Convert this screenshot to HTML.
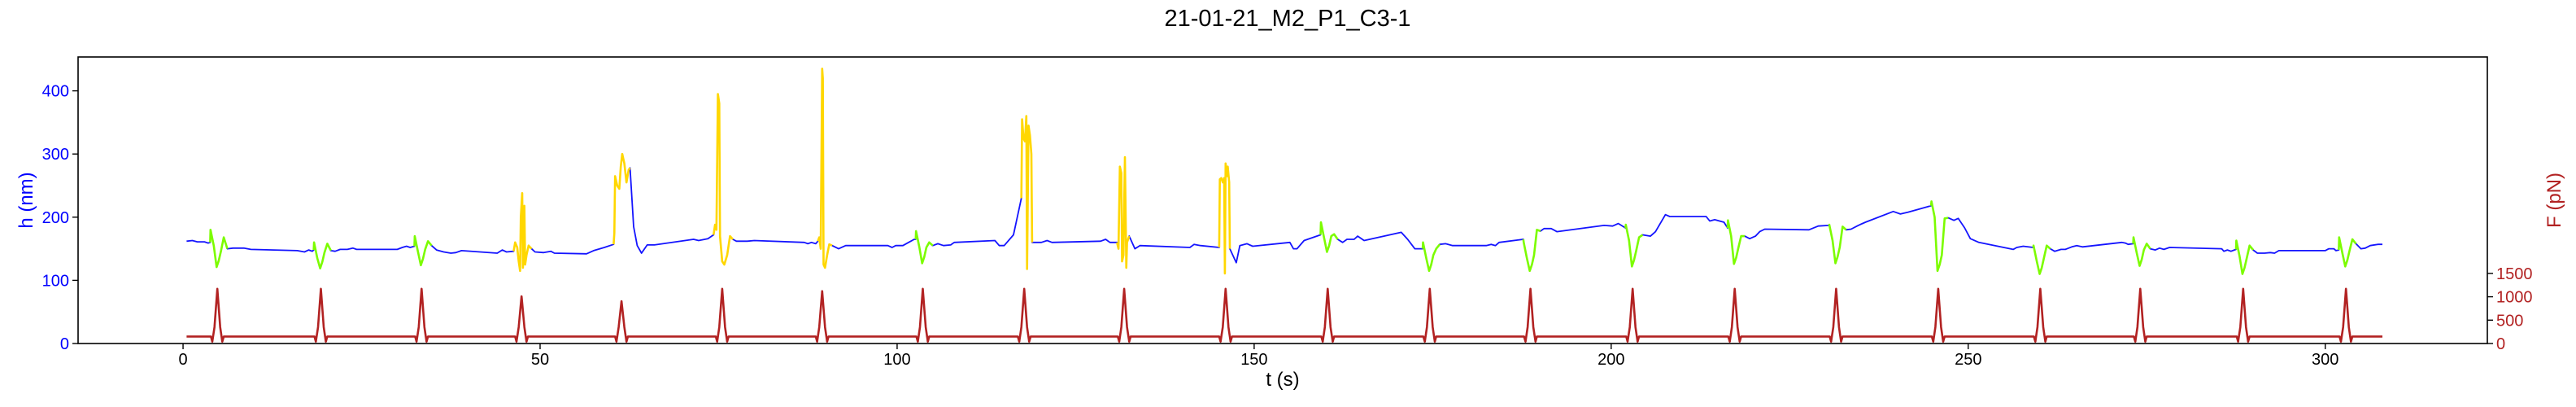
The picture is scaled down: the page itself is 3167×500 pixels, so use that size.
<!DOCTYPE html>
<html><head><meta charset="utf-8"><style>
html,body{margin:0;padding:0;background:#fff;}
svg{display:block;font-family:"Liberation Sans",sans-serif;}
</style></head><body>
<svg id="chart" width="3167" height="500" xmlns="http://www.w3.org/2000/svg">
<text x="1583" y="32" font-size="29" text-anchor="middle" fill="#000">21-01-21_M2_P1_C3-1</text>
<g id="plot"></g>
<text x="1577" y="474" font-size="24" text-anchor="middle" fill="#000">t (s)</text>
<text transform="translate(40,246) rotate(-90)" font-size="24" text-anchor="middle" fill="#0000ff">h (nm)</text>
<text transform="translate(3148,246) rotate(-90)" font-size="24" text-anchor="middle" fill="#b22222">F (pN)</text>
</svg>
<script>
const xTicks=[0,50,100,150,200,250,300];
const hTicks=[0,100,200,300,400];
const fTicks=[0,500,1000,1500];
const peakTimes=[4.8,19.3,33.4,47.4,61.4,75.5,89.5,103.6,117.8,131.8,146.0,160.3,174.6,188.7,203.0,217.3,231.5,245.8,260.1,274.1,288.5,302.9];
const peakForces=[1170,1170,1170,1010,905,1170,1120,1170,1170,1170,1170,1170,1170,1170,1170,1170,1170,1170,1170,1170,1170,1170];
const fBaseline=150;
const greenTimes=[4.8,19.3,33.4,103.6,160.3,174.6,188.7,203.0,217.3,231.5,245.8,260.1,274.1,288.5,302.9];
const greenBefore=[160,148,154,165,172,150,165,183,183,187,218,152,158,149,148];
const greenTop1=[180,160,170,178,192,160,160,188,195,188,225,155,168,163,168];
const greenMin=[121,119,124,127,145,115,115,122,126,127,115,110,123,110,122];
const greenTop2=[168,158,162,160,173,150,180,168,170,185,198,155,158,155,165];
const greenAfter=[150,147,155,155,165,157,178,172,170,180,199,150,150,148,158];
const yellowSegs=[
[[46.3,146],[46.5,160],[46.8,152],[47.0,130],[47.2,115],[47.3,200],[47.5,238],[47.6,120],[47.8,218],[47.9,125],[48.1,140],[48.4,155],[48.8,150]],
[[60.3,157],[60.4,175],[60.5,265],[60.8,250],[61.1,245],[61.3,280],[61.5,300],[61.8,285],[62.1,255],[62.4,275],[62.6,278]],
[[74.3,172],[74.5,188],[74.7,180],[74.9,395],[75.1,380],[75.2,170],[75.5,130],[75.8,125],[76.2,140],[76.6,170],[77,165]],
[[88.9,162],[89.1,168],[89.3,150],[89.5,435],[89.6,420],[89.7,125],[89.9,120],[90.2,140],[90.5,157],[90.9,155]],
[[117.4,230],[117.5,355],[117.7,325],[117.9,320],[118.1,360],[118.2,118],[118.4,345],[118.6,330],[118.8,300],[118.9,160]],
[[130.8,160],[131,150],[131.2,280],[131.4,270],[131.5,130],[131.7,140],[131.9,295],[132.1,120],[132.2,160],[132.5,170]],
[[145.1,152],[145.2,260],[145.4,262],[145.6,255],[145.8,262],[145.9,111],[146,285],[146.2,265],[146.3,280],[146.5,255],[146.6,150]]
];
const blueSegs=[
[[0.5,162],[1.3,163],[2,161],[3,161],[3.5,159],[3.8,160]],
[[6.2,150],[7,151],[8.5,151],[9.5,149],[16,147],[17,145],[17.6,148],[18.1,146],[18.3,148]],
[[20.7,147],[21.3,146],[22,149],[23,149],[23.8,151],[24.3,149],[30,149],[30.7,152],[31.3,154],[31.8,152],[32.4,154]],
[[34.8,155],[35.5,148],[36.5,145],[37.5,143],[38.2,144],[39,147],[44,143],[44.7,148],[45.3,145],[46.3,146]],
[[48.8,150],[49.3,145],[50.5,144],[51.5,146],[52,143],[56.5,142],[57.5,147],[59,152],[60.3,157]],
[[62.6,278],[63.1,185],[63.6,155],[64.2,143],[65,156],[66,156],[71.5,165],[72.2,163],[73.5,166],[74.3,172]],
[[77,165],[77.5,162],[79,162],[80,163],[87,160],[87.5,158],[88,160],[88.6,158],[88.9,162]],
[[90.9,155],[91.8,150],[92.8,155],[98.7,155],[99.3,152],[99.8,155],[100.8,155],[101.6,160],[102.4,165]],
[[105,155],[105.7,158],[106.5,155],[107.5,156],[108,160],[113.7,163],[114.3,155],[115,155],[116.3,172],[117.4,230]],
[[118.9,160],[120.2,160],[121,163],[121.7,160],[128.5,162],[129.2,165],[129.8,160],[130.8,160]],
[[132.5,170],[133.3,150],[134,155],[141,152],[141.6,157],[142.5,155],[145.1,152]],
[[146.6,152],[147.5,128],[148,155],[149,158],[149.8,154],[155,160],[155.5,150],[156,150],[157,163],[159.3,172]],
[[161.7,165],[162.4,160],[163,165],[164,165],[164.5,170],[165.4,163],[170.6,176],[171.5,165],[172.5,150],[173.6,150]],
[[176,157],[176.8,158],[177.8,155],[182.5,155],[183.2,157],[183.8,155],[184.3,160],[187.7,165]],
[[190.1,178],[190.6,182],[191.6,182],[192.4,177],[199,187],[200.2,186],[201,190],[202,183]],
[[204.4,172],[205.5,170],[206.2,177],[207.6,204],[208.2,201],[213.3,201],[213.8,194],[214.5,196],[215.8,192],[216.3,183]],
[[218.7,170],[219.4,166],[220.2,170],[220.8,177],[221.5,181],[227.7,180],[229,186],[230.5,187]],
[[232.9,180],[233.6,181],[234.6,187],[235.6,192],[239.5,209],[240.5,205],[241.6,208],[244.8,218]],
[[247.2,199],[248,195],[248.6,198],[249.5,183],[250.3,166],[251.5,160],[256.3,149],[256.8,152],[257.7,154],[259.1,152]],
[[261.5,150],[262.1,146],[263,149],[263.6,149],[264.5,153],[265.2,155],[266,153],[271.5,160],[272,159],[272.4,157],[273.1,158]],
[[275.5,150],[276.2,148],[276.8,151],[277.4,149],[278.2,152],[285.5,150],[285.8,146],[286.3,148],[286.8,146],[287.5,149]],
[[289.9,148],[290.5,143],[291.5,143],[292.3,144],[292.9,143],[293.5,147],[300,147],[300.5,150],[301.2,150],[301.5,147],[301.9,148]],
[[304.3,158],[305,150],[305.6,151],[306.3,155],[307.4,157],[308,157]]
];
const tStart=0.5, tEnd=308;

const L=96,R=3058,T=70,B=422;
const xMin=-14.7,xMax=322.7,hMax=453.6,fMax=6130;
const X=t=>L+(t-xMin)/(xMax-xMin)*(R-L);
const YH=h=>B-h/hMax*(B-T);
const YF=f=>B-f/fMax*(B-T);
const NS="http://www.w3.org/2000/svg";
const plot=document.getElementById('plot');
function mk(tag,attrs,parent){const e=document.createElementNS(NS,tag);for(const k in attrs)e.setAttribute(k,attrs[k]);(parent||plot).appendChild(e);return e;}
function pathOf(pts,yf){return pts.map((p,i)=>(i?'L':'M')+X(p[0]).toFixed(1)+','+yf(p[1]).toFixed(1)).join('');}

// green segments
const greenSegs=greenTimes.map((tp,i)=>[[tp-1.0,greenBefore[i]],[tp-0.95,greenTop1[i]],[tp-0.5,greenTop1[i]-25],[tp-0.1,greenMin[i]],[tp+0.2,greenMin[i]+10],[tp+0.5,greenMin[i]+25],[tp+0.9,greenTop2[i]],[tp+1.4,greenAfter[i]]]);
// full blue path = all points sorted
let all=[];blueSegs.forEach(s=>all=all.concat(s));greenSegs.forEach(s=>all=all.concat(s));yellowSegs.forEach(s=>all=all.concat(s));
all.sort((a,b)=>a[0]-b[0]);
const blue=mk('path',{d:pathOf(all,YH),fill:'none',stroke:'#1414ff','stroke-width':1.8,'stroke-linejoin':'round'});


greenSegs.forEach(s=>{const g=mk('path',{d:pathOf(s,YH),fill:'none',stroke:'#7cfc00','stroke-width':2.6,'stroke-linejoin':'round'});

});
yellowSegs.forEach(s=>{const g=mk('path',{d:pathOf(s,YH),fill:'none',stroke:'#ffd700','stroke-width':2.6,'stroke-linejoin':'round'});

});
// force
let fp=[[tStart,fBaseline]];
peakTimes.forEach((tp,i)=>{fp.push([tp-0.9,fBaseline],[tp-0.7,40],[tp-0.4,350],[tp,peakForces[i]],[tp+0.4,350],[tp+0.7,40],[tp+0.9,fBaseline]);});
fp.push([tEnd,fBaseline]);
const fl=mk('path',{d:pathOf(fp,YF),fill:'none',stroke:'#b22222','stroke-width':2.6,'stroke-linejoin':'round'});


// frame
const fr=mk('rect',{x:L,y:T,width:R-L,height:B-T,fill:'none',stroke:'#000','stroke-width':1.6});


xTicks.forEach(v=>{const x=X(v);mk('line',{x1:x,x2:x,y1:B,y2:B+7,stroke:'#000','stroke-width':1.4});
const t=mk('text',{x:x,y:B+26,'font-size':20,'text-anchor':'middle',fill:'#000'});t.textContent=v;

});
hTicks.forEach(v=>{const y=YH(v);mk('line',{x1:L-7,x2:L,y1:y,y2:y,stroke:'#000','stroke-width':1.4});
const t=mk('text',{x:L-11,y:y+7,'font-size':20,'text-anchor':'end',fill:'#0000ff'});t.textContent=v;

});
fTicks.forEach(v=>{const y=YF(v);mk('line',{x1:R,x2:R+7,y1:y,y2:y,stroke:'#000','stroke-width':1.4});
const t=mk('text',{x:R+11,y:y+7,'font-size':20,'text-anchor':'start',fill:'#b22222'});t.textContent=v;

});
</script>
</body></html>
